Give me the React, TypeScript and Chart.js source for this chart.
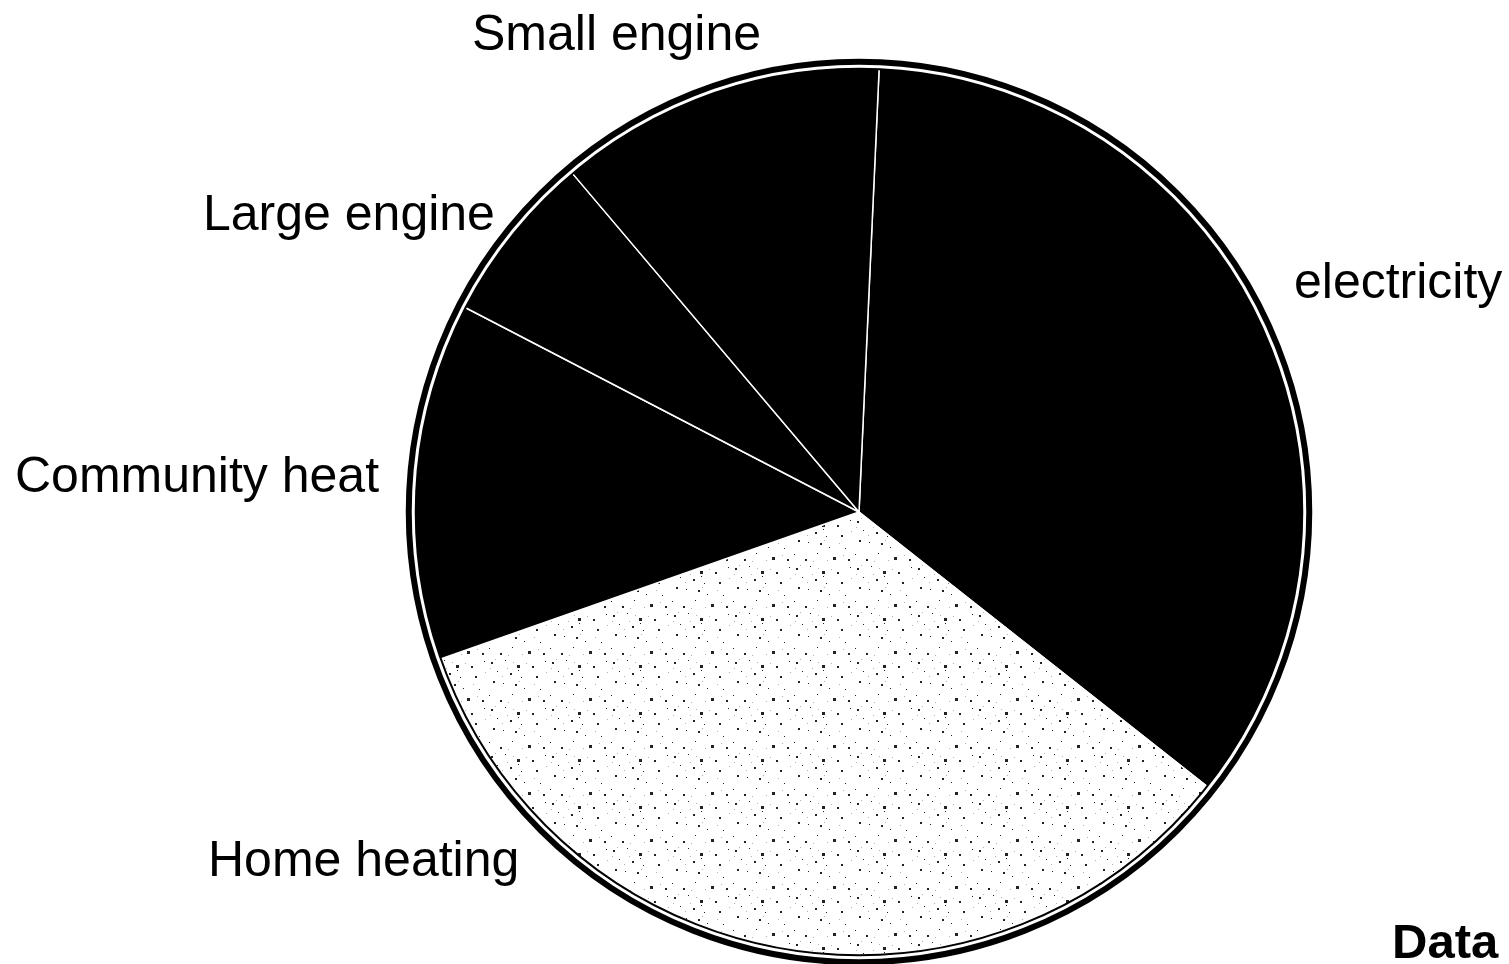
import React, { useEffect, useRef } from "react";
import { Chart, registerables } from "chart.js";

Chart.register(...registerables);

// Data (shares of the pie, clockwise from ~top)
const categories = ["electricity", "Home heating", "Community heat", "Large engine", "Small engine"];
const shares = [34.9, 34.0, 13.0, 6.2, 11.9];
const footerLabel = "Data";

// Label placement (left x, baseline y) in page pixels
const labelPlacement: [number, number][] = [
  [1294, 298],
  [208, 876],
  [15, 492],
  [203, 230],
  [472, 50],
];

const W = 1509;
const H = 964;

function makeSpeckle(): CanvasPattern | string {
  const c = document.createElement("canvas");
  c.width = 61;
  c.height = 47;
  const g = c.getContext("2d");
  if (!g) return "#eeeeee";
  g.fillStyle = "#ffffff";
  g.fillRect(0, 0, 61, 47);
  const dots = [
    [3, 4, 2], [17, 2, 1], [29, 7, 3], [9, 13, 1], [22, 15, 2], [33, 19, 1],
    [5, 23, 2], [15, 25, 1], [27, 26, 2], [44, 8, 2], [52, 31, 1], [40, 40, 3],
    [1, 37, 1], [30, 12, 1], [48, 18, 2], [57, 3, 1], [12, 42, 2], [24, 36, 1],
    [36, 30, 1], [55, 42, 2],
  ];
  g.fillStyle = "#222222";
  dots.forEach(([x, y, s]) => g.fillRect(x, y, s, s));
  g.fillStyle = "#b0b0b0";
  [[7, 1], [25, 4], [14, 18], [31, 23], [2, 10], [19, 10], [46, 26], [38, 5], [58, 14], [20, 44], [50, 38], [34, 43]].forEach(([x, y]) =>
    g.fillRect(x, y, 1, 1)
  );
  const p = g.createPattern(c, "repeat");
  return p || "#eeeeee";
}

export default function App() {
  const ref = useRef<HTMLCanvasElement | null>(null);

  useEffect(() => {
    if (!ref.current) return;
    const speckle = makeSpeckle();
    const fills = ["#000000", speckle, "#000000", "#000000", "#000000"];

    const decor = {
      id: "decor",
      afterDatasetsDraw(chart: any) {
        const ctx = chart.ctx;
        const arc = chart.getDatasetMeta(0).data[0];
        if (!arc) return;
        const { x, y, outerRadius } = arc.getProps(["x", "y", "outerRadius"], true);
        ctx.save();
        ctx.strokeStyle = "#000";
        ctx.lineWidth = 2;
        ctx.beginPath();
        ctx.arc(x, y, outerRadius - 1, 0, Math.PI * 2);
        ctx.stroke();
        ctx.lineWidth = 6;
        ctx.beginPath();
        ctx.arc(x, y, outerRadius + 6, 0, Math.PI * 2);
        ctx.stroke();
        ctx.restore();
      },
      afterDraw(chart: any) {
        const ctx = chart.ctx;
        ctx.save();
        ctx.fillStyle = "#000";
        ctx.textAlign = "left";
        ctx.textBaseline = "alphabetic";
        ctx.font = "50px 'Liberation Sans', Arial, sans-serif";
        categories.forEach((c, i) => {
          const [lx, ly] = labelPlacement[i];
          ctx.fillText(c, lx, ly);
        });
        ctx.font = "bold 49px 'Liberation Sans', Arial, sans-serif";
        ctx.fillText(footerLabel, 1392, 958);
        ctx.restore();
      },
    };

    const chart = new Chart(ref.current, {
      type: "pie",
      data: {
        labels: categories,
        datasets: [
          {
            data: shares,
            backgroundColor: fills as any,
            borderColor: "#ffffff",
            borderWidth: 1.5,
          },
        ],
      },
      options: {
        responsive: false,
        animation: false,
        rotation: 2.6,
        layout: { padding: { left: 414, right: 205, top: 67, bottom: 7 } },
        plugins: {
          legend: { display: false },
          tooltip: { enabled: false },
          title: { display: false },
        },
      },
      plugins: [decor],
    });
    return () => chart.destroy();
  }, []);

  return (
    <div style={{ position: "fixed", left: 0, top: 0, width: W, height: H, background: "#fff" }}>
      <canvas ref={ref} width={W} height={H} style={{ width: W, height: H, display: "block" }} />
    </div>
  );
}
